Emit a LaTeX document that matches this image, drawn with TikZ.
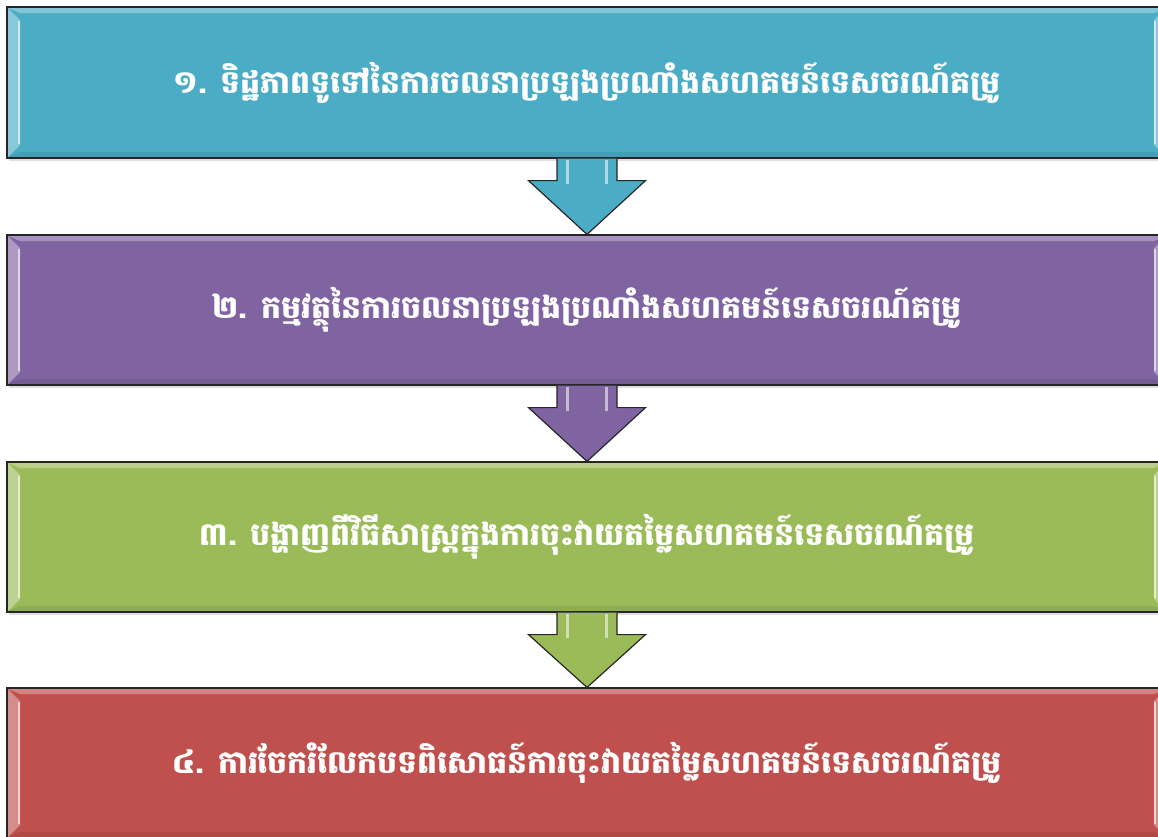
\documentclass[tikz,border=0pt]{standalone}
\usepackage{fontspec}
\newfontfamily\khmerfont[Script=Khmer]{Battambang}
\usetikzlibrary{calc,shadows}
\definecolor{boxcyan}{HTML}{4BACC6}
\definecolor{boxpurple}{HTML}{8064A2}
\definecolor{boxgreen}{HTML}{9BBB59}
\definecolor{boxred}{HTML}{C0504D}
\tikzset{
  stepbox/.style={draw=black!85, line width=1.2pt, minimum width=1160pt,
    minimum height=151pt, inner sep=0pt, text=white,
    font=\khmerfont\bfseries\fontsize{31.5}{36}\selectfont,
    drop shadow={opacity=0.25, shadow xshift=1.5pt, shadow yshift=-3pt},
    path picture={
      \fill[white,opacity=0.3] ($(path picture bounding box.north west)+(1pt,-1pt)$) -- ($(path picture bounding box.north east)+(-1pt,-1pt)$) -- ++(-12pt,-5pt) -- ($(path picture bounding box.north west)+(13pt,-6pt)$) -- cycle;
      \fill[white,opacity=0.35] ($(path picture bounding box.north west)+(1pt,-1pt)$) -- ($(path picture bounding box.south west)+(1pt,1pt)$) -- ++(12pt,12pt) -- ($(path picture bounding box.north west)+(13pt,-13pt)$) -- cycle;
      \fill[white,opacity=0.35] ($(path picture bounding box.north east)+(-1pt,-1pt)$) -- ($(path picture bounding box.south east)+(-1pt,1pt)$) -- ++(-12pt,12pt) -- ($(path picture bounding box.north east)+(-13pt,-13pt)$) -- cycle;
      \draw[white,opacity=0.6,line width=2pt] ($(path picture bounding box.north west)+(12pt,-14pt)$) -- ($(path picture bounding box.south west)+(12pt,14pt)$);
      \draw[white,opacity=0.6,line width=2pt] ($(path picture bounding box.north east)+(-12pt,-14pt)$) -- ($(path picture bounding box.south east)+(-12pt,14pt)$);
      \fill[black,opacity=0.08] ($(path picture bounding box.south west)+(1pt,1pt)$) -- ($(path picture bounding box.south east)+(-1pt,1pt)$) -- ++(-12pt,5pt) -- ($(path picture bounding box.south west)+(13pt,6pt)$) -- cycle;
    }},
  downarrow/.style={draw=black!85, line width=1.2pt, line join=miter},
  gloss/.style={white, opacity=0.55, line width=3pt}
}
\begin{document}
\begin{tikzpicture}[x=1pt,y=-1pt]
\useasboundingbox (0,0) rectangle (1158,836);
\clip (0,0) rectangle (1158,836);
\fill[white] (0,0) rectangle (1158,836);
%%
\node[stepbox, fill=boxcyan] (b1) at (587,82.5) {១. ទិដ្ឋភាពទូទៅនៃការចលនាប្រឡងប្រណាំងសហគមន៍ទេសចរណ៍គម្រូ};
\node[stepbox, fill=boxpurple, minimum height=150pt] (b2) at (587,310) {២. កម្មវត្ថុនៃការចលនាប្រឡងប្រណាំងសហគមន៍ទេសចរណ៍គម្រូ};
\node[stepbox, fill=boxgreen, minimum height=150pt] (b3) at (587,537) {៣. បង្ហាញពីវិធីសាស្ត្រក្នុងការចុះវាយតម្លៃសហគមន៍ទេសចរណ៍គម្រូ};
\node[stepbox, fill=boxred, minimum height=150pt] (b4) at (587,763) {៤. ការចែករំលែកបទពិសោធន៍ការចុះវាយតម្លៃសហគមន៍ទេសចរណ៍គម្រូ};
%%
\draw[downarrow, fill=boxcyan] ($(b1.south)+(-30pt,0pt)$) -- ++(0pt,-22pt) -- ++(-28.5pt,0pt) -- (b2.north) -- ($(b1.south)+(58.5pt,-22pt)$) -- ++(-28.5pt,0pt) -- ++(0pt,22pt);
\draw[gloss] ($(b1.south)+(-20pt,-1pt)$) -- ++(0pt,-24pt);
\draw[gloss] ($(b1.south)+(19pt,-1pt)$) -- ++(0pt,-24pt);
%%
\draw[downarrow, fill=boxpurple] ($(b2.south)+(-30pt,0pt)$) -- ++(0pt,-22pt) -- ++(-28.5pt,0pt) -- (b3.north) -- ($(b2.south)+(58.5pt,-22pt)$) -- ++(-28.5pt,0pt) -- ++(0pt,22pt);
\draw[gloss] ($(b2.south)+(-20pt,-1pt)$) -- ++(0pt,-24pt);
\draw[gloss] ($(b2.south)+(19pt,-1pt)$) -- ++(0pt,-24pt);
%%
\draw[downarrow, fill=boxgreen] ($(b3.south)+(-30pt,0pt)$) -- ++(0pt,-22pt) -- ++(-28.5pt,0pt) -- (b4.north) -- ($(b3.south)+(58.5pt,-22pt)$) -- ++(-28.5pt,0pt) -- ++(0pt,22pt);
\draw[gloss] ($(b3.south)+(-20pt,-1pt)$) -- ++(0pt,-24pt);
\draw[gloss] ($(b3.south)+(19pt,-1pt)$) -- ++(0pt,-24pt);
\end{tikzpicture}
\end{document}
